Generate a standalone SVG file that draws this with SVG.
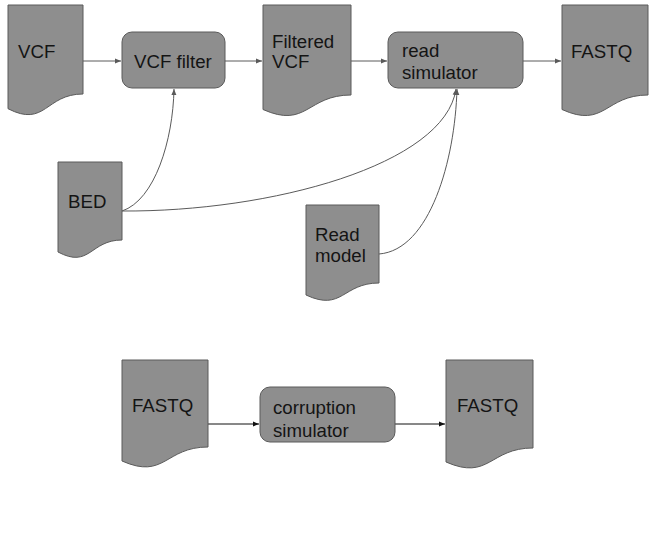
<svg xmlns="http://www.w3.org/2000/svg" width="655" height="534" viewBox="0 0 655 534">
<style>
.shape{fill:#8e8e8e;stroke:#5a5a5a;stroke-width:1}
.lbl{font-family:"Liberation Sans",Arial,sans-serif;font-size:18.67px;fill:#141414}
.conn{fill:none;stroke:#5a5a5a;stroke-width:1}
.conn.dark{stroke:#111}
</style>
<defs>
<marker id="ah" markerUnits="userSpaceOnUse" markerWidth="7" markerHeight="6" refX="6" refY="3" orient="auto">
<path d="M0,0.5 L6,3 L0,5.5 z" fill="#5a5a5a"/>
</marker>
<marker id="ahd" markerUnits="userSpaceOnUse" markerWidth="7" markerHeight="6" refX="6" refY="3" orient="auto">
<path d="M0,0.5 L6,3 L0,5.5 z" fill="#111"/>
</marker>
</defs>
<rect width="655" height="534" fill="#fff"/>
<g id="connectors">
<path class="conn" d="M83,61 H121" marker-end="url(#ah)"/>
<path class="conn" d="M225,61 H262" marker-end="url(#ah)"/>
<path class="conn" d="M351,61 H387" marker-end="url(#ah)"/>
<path class="conn" d="M523,61 H561" marker-end="url(#ah)"/>
<path class="conn" d="M122,211 C155,200 173,140 174,89" marker-end="url(#ah)"/>
<path class="conn" d="M122,211 C270,212 445,165 456,89" marker-end="url(#ah)"/>
<path class="conn" d="M379,254 C430,250 455,160 457,89" marker-end="url(#ah)"/>
<path class="conn dark" d="M208,424 H259" marker-end="url(#ahd)"/>
<path class="conn dark" d="M395,424 H445" marker-end="url(#ahd)"/>
</g>
<g id="vcf">
<path class="shape" d="M8,5 H83 V94 C45.5,94 45.5,128 8,108.7 Z"/>
<text class="lbl" x="18" y="58">VCF</text>
</g>
<g id="vcf-filter">
<rect class="shape" x="122" y="32" width="103" height="56" rx="10"/>
<text class="lbl" x="134" y="68">VCF filter</text>
</g>
<g id="filtered-vcf">
<path class="shape" d="M263,5 H351 V95 C307,95 307,129 263,109.5 Z"/>
<text class="lbl" x="272" y="48">Filtered</text>
<text class="lbl" x="272" y="68">VCF</text>
</g>
<g id="read-simulator">
<rect class="shape" x="388" y="32" width="135" height="56" rx="10"/>
<text class="lbl" x="402" y="57">read</text>
<text class="lbl" x="402" y="79">simulator</text>
</g>
<g id="fastq-top">
<path class="shape" d="M562,5 H648 V95 C605,95 605,129 562,109.5 Z"/>
<text class="lbl" x="571" y="58">FASTQ</text>
</g>
<g id="bed">
<path class="shape" d="M58,162 H122 V240 C90,240 90,269 58,252 Z"/>
<text class="lbl" x="68" y="208">BED</text>
</g>
<g id="read-model">
<path class="shape" d="M306,205 H379 V283 C342.5,283 342.5,312 306,295 Z"/>
<text class="lbl" x="315" y="241">Read</text>
<text class="lbl" x="315" y="262">model</text>
</g>
<g id="fastq-in">
<path class="shape" d="M122,360 H208 V447 C165,447 165,480 122,461 Z"/>
<text class="lbl" x="132" y="412">FASTQ</text>
</g>
<g id="corruption-simulator">
<rect class="shape" x="260" y="387" width="135" height="55" rx="10"/>
<text class="lbl" x="273" y="414">corruption</text>
<text class="lbl" x="273" y="437">simulator</text>
</g>
<g id="fastq-out">
<path class="shape" d="M446,360 H533 V448 C489.5,448 489.5,481 446,462 Z"/>
<text class="lbl" x="457" y="412">FASTQ</text>
</g>
</svg>
